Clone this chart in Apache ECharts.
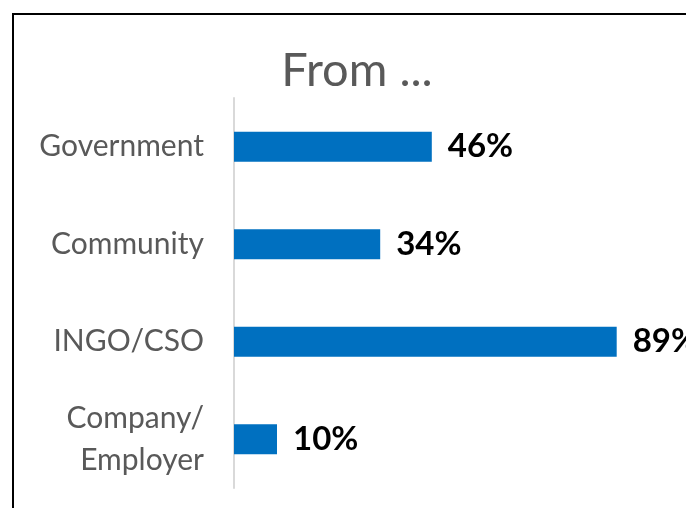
<!DOCTYPE html>
<html><head><meta charset="utf-8">
<script src="https://cdn.jsdelivr.net/npm/echarts@6/dist/echarts.min.js"></script>
<style>html,body{margin:0;padding:0;background:#fff}#c{width:686px;height:508px}</style>
</head><body><div id="c"></div>
<script>
const categories = ['Government', 'Community', 'INGO/CSO', 'Company/\nEmployer'];
const values = [46, 34, 89, 10];
const titleText = 'From ...';

const chart = echarts.init(document.getElementById('c'), null, {renderer: 'canvas'});
chart.setOption({
  animation: false,
  backgroundColor: '#fff',
  title: {
    text: titleText, left: 352, top: 42, textAlign: 'center',
    textStyle: {fontFamily: 'Lato', fontSize: 47, fontWeight: 'normal', color: '#595959'}
  },
  graphic: [{
    type: 'rect', shape: {x: 13, y: 14, width: 700, height: 520},
    style: {fill: 'none', stroke: '#000', lineWidth: 2}, silent: true
  }],
  grid: {left: 234, right: 22, top: 98, bottom: 20, containLabel: false},
  xAxis: {type: 'value', min: 0, max: 100, show: false},
  yAxis: {
    type: 'category', data: categories, inverse: true,
    axisLine: {show: true, lineStyle: {color: '#d9d9d9', width: 2}},
    axisTick: {show: false},
    axisLabel: {margin: 30, fontFamily: 'Lato', fontSize: 30, color: '#595959', lineHeight: 42}
  },
  series: [{
    type: 'bar', data: values, barWidth: 30,
    itemStyle: {color: '#0070c0'},
    label: {
      show: true, position: 'right', distance: 16,
      formatter: p => p.value + '%',
      fontFamily: 'Lato', fontSize: 33, fontWeight: 'bold', color: '#000'
    }
  }]
});
</script></body></html>
